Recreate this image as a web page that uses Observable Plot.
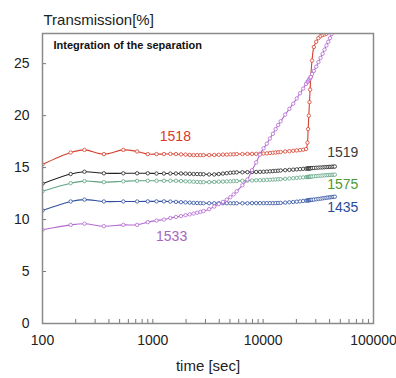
<!DOCTYPE html>
<html>
<head>
<meta charset="utf-8">
<script src="https://cdn.jsdelivr.net/npm/d3@7"></script>
<script src="https://cdn.jsdelivr.net/npm/@observablehq/plot@0.6"></script>
<style>
  html, body { margin: 0; padding: 0; background: #fff; }
  #chart svg { display: block; }
</style>
</head>
<body>
<div id="chart"></div>
<script>
// Measurement times [sec]
const times = [100, 180, 240, 360, 540, 720, 900, 1080, 1260, 1440, 1620, 1800,
  1980, 2160, 2340, 2520, 2700, 2880, 3240, 3600, 3960, 4320, 4680, 5040,
  5400, 5760, 6480, 7200, 7920, 8640, 9360, 10080, 10800, 11520, 12240, 12960,
  13680, 14400, 15840, 17280, 18720, 20160, 21600, 23040, 24480, 25200, 25560, 25920,
  26280, 26640, 27000, 27720, 28800, 30240, 31680, 33120, 34560, 36000, 37440, 38880,
  40320, 41760, 43200, 44640];

// Transmission [%] per sample
const s1518 = [15.3, 16.45, 16.7, 16.3, 16.7, 16.55, 16.3, 16.3, 16.3, 16.32, 16.3, 16.27,
  16.25, 16.22, 16.2, 16.2, 16.2, 16.2, 16.2, 16.22, 16.23, 16.25, 16.25, 16.27,
  16.28, 16.3, 16.3, 16.32, 16.32, 16.32, 16.33, 16.35, 16.37, 16.4, 16.43, 16.45,
  16.48, 16.5, 16.55, 16.58, 16.62, 16.65, 16.68, 16.72, 16.78, 17.4, 18.7, 20.0,
  21.3, 22.5, 23.7, 25.3, 26.6, 27.1, 27.45, 27.65, 27.75, 27.82, 27.88, 27.95,
  null, null, null, null];
const s1519 = [13.45, 14.38, 14.6, 14.45, 14.45, 14.45, 14.45, 14.43, 14.43, 14.43, 14.43, 14.43,
  14.42, 14.4, 14.38, 14.38, 14.37, 14.36, 14.34, 14.34, 14.38, 14.42, 14.46, 14.5,
  14.52, 14.54, 14.55, 14.56, 14.57, 14.58, 14.59, 14.6, 14.62, 14.64, 14.66, 14.68,
  14.7, 14.72, 14.75, 14.78, 14.8, 14.83, 14.85, 14.88, 14.9, 14.91, 14.92, 14.92,
  14.93, 14.93, 14.94, 14.95, 14.97, 14.98, 15.0, 15.01, 15.02, 15.04, 15.05, 15.06,
  15.07, 15.08, 15.09, 15.1];
const s1575 = [12.73, 13.5, 13.7, 13.6, 13.68, 13.73, 13.73, 13.73, 13.73, 13.73, 13.73, 13.7,
  13.68, 13.66, 13.64, 13.62, 13.6, 13.6, 13.6, 13.62, 13.64, 13.65, 13.67, 13.68,
  13.7, 13.71, 13.73, 13.75, 13.76, 13.78, 13.79, 13.8, 13.82, 13.83, 13.85, 13.86,
  13.88, 13.89, 13.92, 13.95, 13.98, 14.01, 14.04, 14.06, 14.08, 14.09, 14.1, 14.11,
  14.11, 14.12, 14.13, 14.14, 14.16, 14.18, 14.2, 14.22, 14.24, 14.25, 14.27, 14.28,
  14.29, 14.3, 14.31, 14.32];
const s1435 = [10.87, 11.74, 11.92, 11.74, 11.74, 11.74, 11.75, 11.75, 11.75, 11.73, 11.7, 11.67,
  11.65, 11.63, 11.6, 11.59, 11.58, 11.57, 11.57, 11.57, 11.57, 11.57, 11.57, 11.57,
  11.57, 11.57, 11.57, 11.57, 11.58, 11.58, 11.58, 11.58, 11.58, 11.58, 11.58, 11.58,
  11.59, 11.6, 11.63, 11.66, 11.69, 11.72, 11.75, 11.79, 11.82, 11.84, 11.85, 11.86,
  11.87, 11.88, 11.89, 11.9, 11.92, 11.95, 11.98, 12.01, 12.04, 12.07, 12.1, 12.12,
  12.14, 12.16, 12.18, 12.2];
const s1533 = [9.02, 9.49, 9.6, 9.36, 9.49, 9.49, 9.75, 9.9, 10.0, 10.15, 10.25, 10.33,
  10.42, 10.5, 10.58, 10.66, 10.74, 10.82, 11.0, 11.25, 11.5, 11.7, 11.92, 12.15,
  12.42, 12.72, 13.3, 13.85, 14.75, 15.5, 16.25, 16.85, 17.3, 17.8, 18.25, 18.7,
  19.1, 19.45, 20.1, 20.65, 21.15, 21.65, 22.15, 22.6, 23.05, 23.25, 23.3, 23.42,
  23.52, 23.62, 23.72, 24.0, 24.3, 24.7, 25.15, 25.55, 25.95, 26.35, 26.75, 27.1,
  27.45, 27.85, 28.15, null];

const seriesNames = ["1518", "1519", "1575", "1435", "1533"];
const seriesValues = [s1518, s1519, s1575, s1435, s1533];
const lineColors = ["#d8402e", "#222222", "#5fa383", "#2f4f9e", "#b36ad0"];
const labelColors = ["#d93a2a", "#3c3c3c", "#4c9a34", "#2b4b9b", "#a865bf"];

// label anchor positions (data units)
const labelTimes = [1600, 52600, 52600, 52600, 1480];
const labelValues = [18.0, 16.45, 13.38, 11.15, 8.37];

const xTickLabels = [100, 1000, 10000, 100000];
const xMinorTicks = [200, 300, 400, 500, 600, 700, 800, 900, 1000,
  2000, 3000, 4000, 5000, 6000, 7000, 8000, 9000, 10000,
  20000, 30000, 40000, 50000, 60000, 70000, 80000, 90000];
const yTicks = [0, 5, 10, 15, 20, 25];

const rows = [];
seriesNames.forEach((name, k) => {
  times.forEach((t, i) => rows.push({name, t, v: seriesValues[k][i]}));
});
const labels = seriesNames.map((name, k) => ({name, t: labelTimes[k], v: labelValues[k]}));

const font = "'Liberation Sans', Arial, sans-serif";
const yMax = 27.9;

const marks = [];
seriesNames.forEach((name, k) => {
  const d = rows.filter(r => r.name === name);
  marks.push(Plot.line(d, {x: "t", y: "v", stroke: lineColors[k], strokeWidth: 1.1, curve: "catmull-rom", clip: true}));
  marks.push(Plot.dot(d.filter(r => r.v != null && r.v <= yMax), {x: "t", y: "v", r: 1.7, stroke: lineColors[k], strokeWidth: 0.8, fill: "white", clip: true}));
});
labels.forEach((l, k) => {
  marks.push(Plot.text([l], {x: "t", y: "v", text: "name", fill: labelColors[k], fontSize: 14, textAnchor: "middle", lineAnchor: "middle", clip: false}));
});

const chart = Plot.plot({
  width: 396,
  height: 378,
  marginLeft: 42,
  marginRight: 23,
  marginTop: 33,
  marginBottom: 55,
  style: {fontFamily: font, background: "white", color: "#222"},
  x: {type: "log", domain: [100, 100000]},
  y: {domain: [0, yMax]},
  marks: [
    Plot.axisY({ticks: yTicks, tickSize: 0, tickPadding: 13, fontSize: 14, label: null, fill: "#222"}),
    Plot.axisY({ticks: yTicks.slice(1), tickSize: 4, dx: 4, text: null, label: null, stroke: "#777"}),
    Plot.axisX({ticks: xTickLabels, tickSize: 0, tickPadding: 12, fontSize: 14, label: null, tickFormat: d => String(d), fill: "#222"}),
    Plot.axisX({ticks: xMinorTicks, tickSize: 4, dy: -4, text: null, label: null, stroke: "#777"}),
    ...marks,
    Plot.frame({stroke: "#8a8a8a", strokeWidth: 1.5}),
    Plot.text(["Transmission[%]"], {frameAnchor: "top-left", dx: 1, dy: -13, textAnchor: "start", lineAnchor: "middle", fontSize: 15, fill: "#222"}),
    Plot.text(["time [sec]"], {frameAnchor: "bottom", dy: 43, textAnchor: "middle", lineAnchor: "middle", fontSize: 15, fill: "#222"}),
    Plot.text(["Integration of the separation"], {frameAnchor: "top-left", dx: 11, dy: 12, textAnchor: "start", lineAnchor: "middle", fontSize: 11, fontWeight: "bold", fill: "#111"})
  ]
});
document.getElementById("chart").appendChild(chart);
</script>
</body>
</html>
